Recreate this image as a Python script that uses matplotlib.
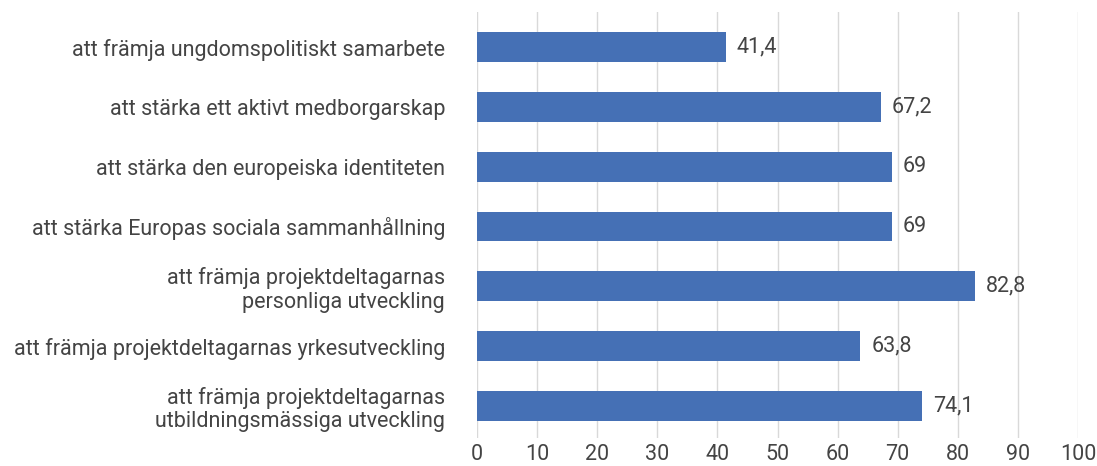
import matplotlib
matplotlib.use("Agg")
import matplotlib.pyplot as plt

categories = [
    "att främja ungdomspolitiskt samarbete",
    "att stärka ett aktivt medborgarskap",
    "att stärka den europeiska identiteten",
    "att stärka Europas sociala sammanhållning",
    "att främja projektdeltagarnas\npersonliga utveckling",
    "att främja projektdeltagarnas yrkesutveckling",
    "att främja projektdeltagarnas\nutbildningsmässiga utveckling",
]
values = [41.4, 67.2, 69, 69, 82.8, 63.8, 74.1]
value_labels = ["41,4", "67,2", "69", "69", "82,8", "63,8", "74,1"]
xticks = [0, 10, 20, 30, 40, 50, 60, 70, 80, 90, 100]

plt.rcParams['font.family'] = ['Roboto', 'DejaVu Sans']
FS = 15.5
TC = '#444444'

fig = plt.figure(figsize=(10.97, 4.66), dpi=100)
ax = fig.add_axes([477/1097, 1-438/466, (1078-477)/1097, (438-12)/466])

ypos = list(range(len(categories)))
ax.barh(ypos, values, height=0.5, color='#4570B5', zorder=3)
ax.set_ylim(6.535, -0.585)
ax.set_xlim(0, 100)
ax.set_xticks(xticks)
ax.set_xticklabels([str(t) for t in xticks], fontsize=FS, color=TC)
ax.set_yticks(ypos)
ax.set_yticklabels(categories, fontsize=FS, color=TC, linespacing=1.15)
ax.tick_params(axis='y', length=0, pad=23)
ax.tick_params(axis='x', length=0, pad=4)
for s in ax.spines.values():
    s.set_visible(False)
ax.grid(axis='x', color='#d9d9d9', linewidth=1, zorder=0)

for y, v, lab in zip(ypos, values, value_labels):
    ax.annotate(lab, (v, y), xytext=(8, 0), textcoords='offset points',
                va='center', ha='left', fontsize=FS, color=TC)

fig.savefig('out.png', dpi=100)
